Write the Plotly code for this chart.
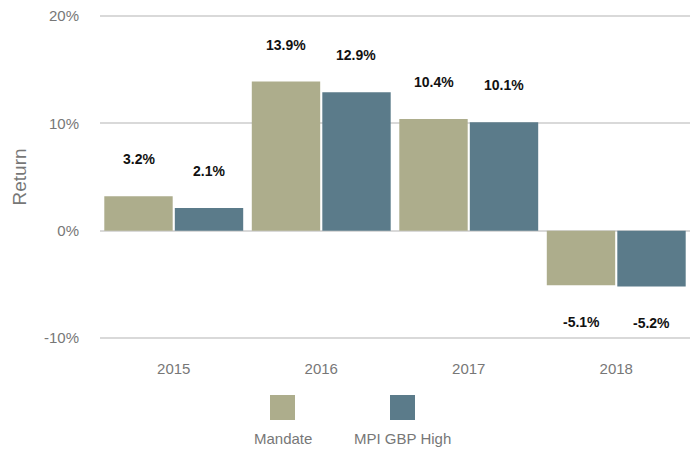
import plotly.graph_objects as go

years = ["2015", "2016", "2017", "2018"]
mandate = [3.2, 13.9, 10.4, -5.1]
mpi = [2.1, 12.9, 10.1, -5.2]
series_names = ["Mandate", "MPI GBP High"]
colors = ["#ADAD8C", "#5B7B8A"]
y_ticks = [-10, 0, 10, 20]

fig = go.Figure()
for name, vals, col in zip(series_names, [mandate, mpi], colors):
    fig.add_trace(go.Bar(x=years, y=vals, name=name, marker_color=col,
                         marker_line_width=0, showlegend=False))

# value labels (category index positions on the x axis)
for vals, xs in [(mandate, -35), (mpi, 35)]:
    for i, v in enumerate(vals):
        fig.add_annotation(x=i, y=v, text=f"<b>{v:.1f}%</b>", showarrow=False,
                           xshift=xs, yshift=37 if v >= 0 else -37,
                           font=dict(family="Liberation Sans", size=14, color="#111111"),
                           xanchor="center", yanchor="middle")

# custom legend (paper coords: plot area x 100..690, y 339..15)
PL, PW, PB, PH = 100, 590, 339, 324
leg = [(282.5, series_names[0], colors[0]), (402.5, series_names[1], colors[1])]
for cx, name, col in leg:
    fig.add_shape(type="rect", xref="paper", yref="paper",
                  x0=(cx - 12.5 - PL) / PW, x1=(cx + 12.5 - PL) / PW,
                  y0=(PB - 420) / PH, y1=(PB - 395) / PH,
                  fillcolor=col, line_width=0)
    fig.add_annotation(xref="paper", yref="paper", x=(cx - PL) / PW,
                       y=(PB - 438) / PH, text=name, showarrow=False,
                       xanchor="center", yanchor="middle",
                       font=dict(family="Liberation Sans", size=15, color="#777777"))

fig.update_layout(
    width=698, height=451,
    margin=dict(l=100, r=8, t=15, b=112),
    barmode="group", bargap=0.044, bargroupgap=0.03,
    plot_bgcolor="white", paper_bgcolor="white",
    font=dict(family="Liberation Sans", color="#777777"),
    xaxis=dict(type="category", range=[-0.5, 3.5], showgrid=False, showline=False, ticks="",
               tickfont=dict(size=15, color="#777777"), ticklabelstandoff=19),
    yaxis=dict(range=[-10.1, 20.1], tickvals=y_ticks,
               ticktext=[f"{t}%" for t in y_ticks],
               showgrid=True, gridcolor="#d9d9d9", gridwidth=1.5,
               zeroline=True, zerolinecolor="#d9d9d9", zerolinewidth=1.5,
               showline=False, ticks="",
               tickfont=dict(size=15, color="#777777"), ticklabelstandoff=20,
               title=dict(text="Return", font=dict(size=19, color="#777777"), standoff=12)),
)

fig.write_html("out.html")
